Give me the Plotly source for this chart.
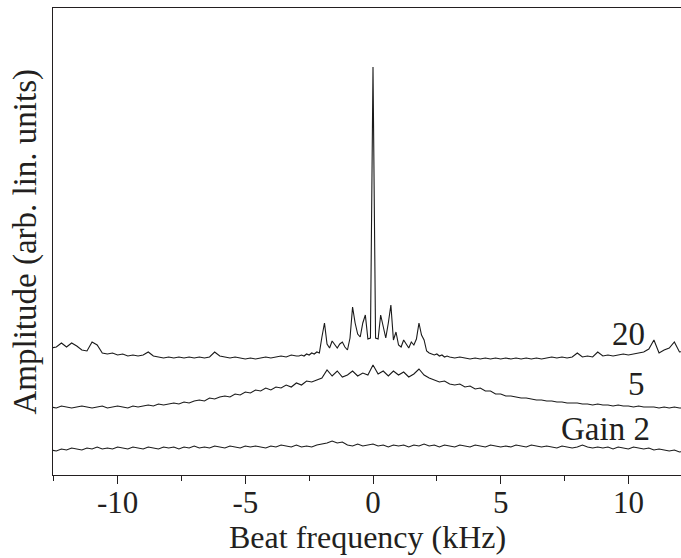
import numpy as np
import plotly.graph_objects as go

# Frequency grids (kHz)
freq_coarse = np.round(np.arange(-12.6, 12.2001, 0.2), 2)
freq20 = np.concatenate([
    np.round(np.arange(-12.6, -2.9999, 0.2), 2),
    np.round(np.arange(-2.9, 2.9001, 0.1), 2),
    np.round(np.arange(3.0, 12.2001, 0.2), 2),
])

# Gain 20 trace (arb. units)
amp20_left = [127, 128, 132, 128, 132, 129, 125, 124, 133, 130, 122, 121, 122, 120, 121, 119,
              120, 119, 120, 123, 119, 118, 117, 118, 117, 118, 117, 118, 117, 118, 117, 118,
              123, 119, 118, 117, 118, 117, 116, 117, 116, 117, 118, 117, 118, 119, 118, 120, 119]
amp20_center = [119, 120, 119, 121, 120, 122, 121, 123, 122, 138, 152, 131, 127, 134, 130, 127,
                131, 133, 128, 125, 137, 168, 152, 141, 138, 152, 160, 136, 137, 408, 137, 136,
                160, 148, 137, 152, 170, 135, 143, 130, 128, 135, 131, 127, 133, 130, 136, 152,
                140, 135, 124, 122, 121, 120, 121, 119, 120, 118, 119]
amp20_right = [118, 117, 118, 117, 116, 117, 116, 117, 116, 117, 116, 117, 116, 117, 116, 117,
               116, 117, 116, 117, 118, 117, 118, 117, 118, 122, 118, 119, 118, 123, 119, 120,
               119, 120, 121, 120, 121, 122, 123, 126, 135, 122, 125, 127, 133, 123, 124]
amp20 = amp20_left + amp20_center + amp20_right

# Gain 5 trace
amp5 = [68, 67, 69, 68, 67, 68, 69, 68, 67, 68, 69, 67, 68, 69, 68, 67, 69, 68, 69, 70,
        69, 71, 70, 71, 72, 71, 73, 72, 74, 75, 74, 77, 76, 78, 79, 78, 81, 80, 83, 82,
        85, 84, 87, 85, 88, 87, 90, 88, 92, 90, 94, 93, 95, 97, 105, 99, 104, 98, 100, 104,
        99, 102, 100, 110, 101, 104, 99, 104, 100, 103, 98, 101, 106, 100, 97, 95, 93, 94, 91, 90,
        91, 88, 89, 86, 87, 84, 84, 81, 81, 79, 79, 78, 77, 77, 76, 75, 75, 74, 74, 73,
        73, 72, 72, 72, 71, 71, 70, 71, 70, 70, 69, 70, 69, 69, 68, 69, 68, 68, 68, 67,
        68, 67, 68, 67, 67]

# Gain 2 trace
amp2 = [25, 24, 26, 25, 27, 26, 25, 27, 26, 28, 26, 27, 26, 28, 27, 26, 28, 27, 26, 28,
        27, 26, 28, 27, 28, 26, 28, 27, 29, 27, 28, 27, 29, 28, 27, 29, 28, 27, 29, 28,
        29, 28, 27, 29, 28, 30, 29, 28, 30, 28, 29, 28, 30, 31, 32, 34, 32, 33, 30, 29,
        31, 29, 30, 31, 29, 30, 28, 30, 29, 30, 28, 30, 29, 31, 29, 30, 28, 30, 29, 28,
        30, 29, 28, 30, 29, 28, 30, 29, 28, 29, 28, 30, 29, 28, 30, 29, 28, 29, 28, 27,
        29, 28, 27, 28, 30, 28, 27, 28, 27, 28, 26, 28, 27, 26, 28, 27, 26, 27, 25, 26,
        25, 24, 25, 23, 24]

curve_labels = ["20", "5", "Gain 2"]
label_x = [10.73, 10.73, 10.92]
label_y = [141, 91, 46]

tick_vals = [-10, -5, 0, 5, 10]
tick_text = ["-10", "-5", "0", "5", "10"]
minor_vals = [-12.5, -7.5, -2.5, 2.5, 7.5]

FONT = "Liberation Serif"
TXT = "#231f20"
FS = 33

fig = go.Figure()
for xs, ys in [(freq_coarse, amp2), (freq_coarse, amp5), (freq20, amp20)]:
    fig.add_trace(go.Scatter(x=xs, y=ys, mode="lines",
                             line=dict(color="#1a1a1a", width=1.1), showlegend=False,
                             hoverinfo="skip"))

annotations = []
for t, xv, yv in zip(curve_labels, label_x, label_y):
    annotations.append(dict(x=xv, y=yv, xref="x", yref="y", text=t, showarrow=False,
                            xanchor="right", yanchor="middle",
                            font=dict(family=FONT, size=FS, color=TXT)))
annotations.append(dict(x=0.5, y=-0.176, xref="paper", yref="paper",
                        text="Beat frequency (kHz)", showarrow=False,
                        xanchor="center", yanchor="bottom",
                        font=dict(family=FONT, size=32, color=TXT)))
annotations.append(dict(x=-0.043, y=0.5, xref="paper", yref="paper",
                        text="Amplitude (arb. lin. units)", showarrow=False,
                        textangle=-90, xanchor="center", yanchor="middle",
                        font=dict(family=FONT, size=FS, color=TXT)))

fig.update_layout(
    width=681, height=558,
    margin=dict(l=53, r=0, t=8, b=83),
    paper_bgcolor="white", plot_bgcolor="white",
    annotations=annotations,
    xaxis=dict(range=[-12.53, 12.06], showgrid=False, zeroline=False,
               showline=True, linecolor="#231f20", linewidth=1.2, mirror=True,
               ticks="outside", ticklen=8, tickwidth=1, tickcolor="#231f20",
               tickmode="array", tickvals=tick_vals, ticktext=tick_text,
               ticklabelstandoff=-8,
               tickfont=dict(family=FONT, size=31, color=TXT),
               minor=dict(tickmode="array", tickvals=minor_vals, ticks="outside",
                          ticklen=5, tickwidth=1, tickcolor="#231f20", showgrid=False)),
    yaxis=dict(range=[0, 467], showgrid=False, zeroline=False,
               showline=True, linecolor="#231f20", linewidth=1.2, mirror=False,
               ticks="", showticklabels=False),
)

fig.write_html("out.html")
